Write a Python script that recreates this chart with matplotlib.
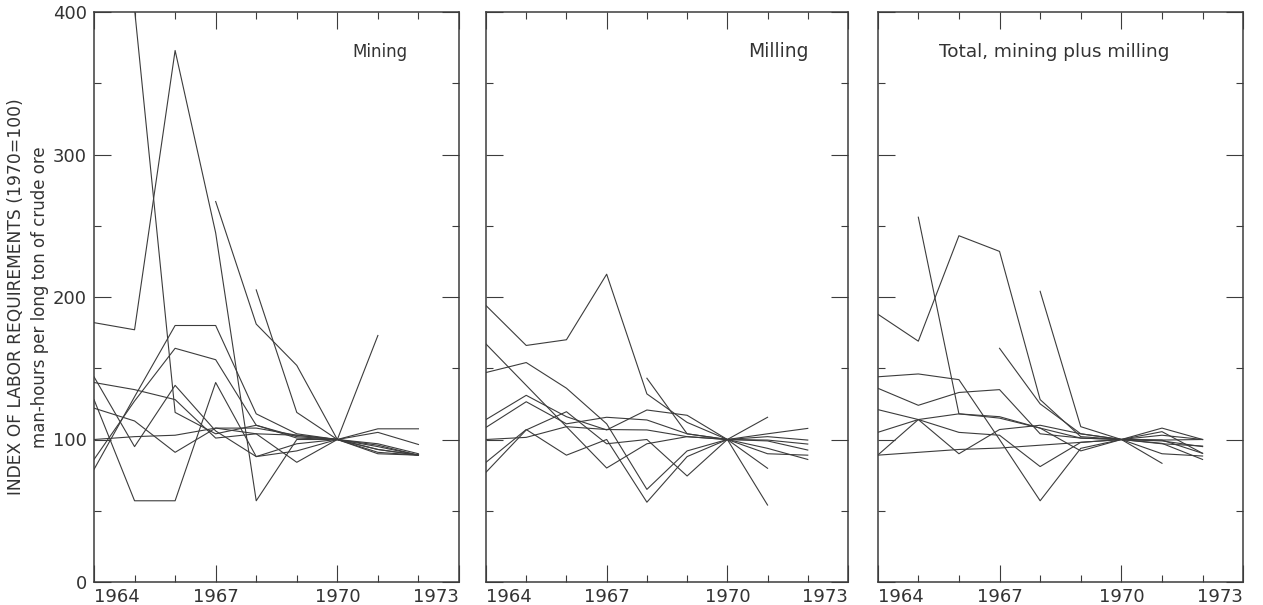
import numpy as np
import matplotlib
matplotlib.use('Agg')
import matplotlib.pyplot as plt
from matplotlib.ticker import MultipleLocator

nan = np.nan
years = [1964, 1965, 1966, 1967, 1968, 1969, 1970, 1971, 1972]

# index values, one row per mine
mining = [
    [182, 177, 373, 245, 57, 100, 100, 91, 89],
    [nan, 402, 119, 104, 110, 102, 100, 96, 89],
    [nan, nan, nan, 267, 181, 152, 100, 173, nan],
    [nan, nan, nan, nan, 205, 119, 100, nan, nan],
    [79, 130, 180, 180, 118, 104, 100, 107.5, 107.5],
    [86, 127, 164, 156, 110, 101, 100, 105, 96.5],
    [144, 95, 138, 106, 88, 92, 100, 93, 89],
    [140, 135, 128, 101, 104, 84, 100, 97, 90],
    [128, 57, 57, 140, 88, 97, 100, 90, 89],
    [122, 113, 91, 108, 108, 103, 100, 93, 89],
    [100, 102, 103, 108, 104, 103, 100, 95, 89],
]

milling = [
    [194, 166, 170, 216, 132, 112, 100, 104, 107.8],
    [167, 138, 109, 80, 97, 102, 100, 115.6, nan],
    [147, 154, 136, 111, 65, 92, 100, 99.6, 96.8],
    [114, 131, 116, 106.7, 120.7, 117, 100, 93.8, 86],
    [108.5, 126.5, 111, 115.6, 113.7, 104, 100, 79.8, nan],
    [100, 101.5, 109, 107, 106.7, 102, 100, 102, 99.6],
    [84, 107, 89, 100, 56, 88, 100, 90, 89],
    [77, 106.7, 119.5, 97, 100, 74.4, 100, 54, nan],
    [nan, nan, nan, nan, 143, 104, 100, 99, 92.6],
]

total = [
    [nan, 256, 118, 115, 108, 101, 100, 108, 100],
    [188, 169, 243, 232, 128, 102, 100, 105.5, 90.3],
    [nan, nan, nan, nan, 204, 109, 100, 97, 95.4],
    [nan, nan, nan, 164, 125, 104, 100, 99.6, 100],
    [144, 146, 142, 100, 57, 93.8, 100, 90, 88.4],
    [136, 124, 133, 135, 104, 101, 100, 97.3, 86],
    [121, 114, 105, 103, 81, 98, 100, 83.3, nan],
    [105, 114, 118, 116, 108, 92, 100, 99.6, 90.3],
    [89, 114, 90, 107, 110, 104, 100, 103, 100],
    [89, 91, 93, 94, 96, 98, 100, 99, 95],
]

panel_titles = ['Mining', 'Milling', 'Total, mining plus milling']
xtick_labels = ['1964', '1967', '1970', '1973']
ink = '#3c3c3c'

plt.rcParams['font.family'] = 'DejaVu Sans'

fig = plt.figure(figsize=(12.63, 6.05), dpi=100)
lefts = [94 / 1263, 486 / 1263, 877.7 / 1263]
widths = [365 / 1263, 362 / 1263, 365.5 / 1263]
bottom = 1 - 582 / 605
height = 570 / 605

# x position, alignment, font size of each panel caption
title_pos = [(0.86, 'right', 12), (0.89, 'right', 13.5), (0.483, 'center', 13.3)]

for i, data in enumerate([mining, milling, total]):
    ax = fig.add_axes([lefts[i], bottom, widths[i], height])
    for row in data:
        ax.plot(years, row, color=ink, lw=0.8)
    ax.set_xlim(1964, 1973)
    ax.set_ylim(0, 400)
    ax.xaxis.set_major_locator(MultipleLocator(3))
    ax.xaxis.set_minor_locator(MultipleLocator(1))
    ax.yaxis.set_major_locator(MultipleLocator(100))
    ax.yaxis.set_minor_locator(MultipleLocator(50))
    ax.tick_params(which='both', direction='in', top=True, right=True,
                   color=ink, width=0.8)
    ax.tick_params(which='major', length=12, labelsize=13, labelcolor='#333333')
    ax.tick_params(which='minor', length=5)
    ax.tick_params(axis='x', pad=4)
    ax.tick_params(axis='y', pad=5)
    for s in ax.spines.values():
        s.set_color(ink)
        s.set_linewidth(1.1)
    ax.set_xticks([1964, 1967, 1970, 1973])
    ax.set_xticklabels(xtick_labels)
    tl = ax.get_xticklabels()
    tl[0].set_ha('left')
    tl[-1].set_ha('right')
    if i == 0:
        ax.set_yticks([0, 100, 200, 300, 400])
        ax.set_yticklabels(['0', '100', '200', '300', '400'])
    else:
        ax.set_yticklabels([])
    x, ha, fs = title_pos[i]
    ax.text(x, 0.93, panel_titles[i], transform=ax.transAxes, ha=ha,
            va='center', fontsize=fs, color='#333333')

fig.text(16 / 1263, 1 - 297 / 605, 'INDEX OF LABOR REQUIREMENTS (1970=100)',
         rotation=90, ha='center', va='center', fontsize=12.3, color='#333333')
fig.text(40 / 1263, 1 - 297 / 605, 'man-hours per long ton of crude ore',
         rotation=90, ha='center', va='center', fontsize=12, color='#333333')

fig.savefig('out.png', dpi=100, facecolor='white')
